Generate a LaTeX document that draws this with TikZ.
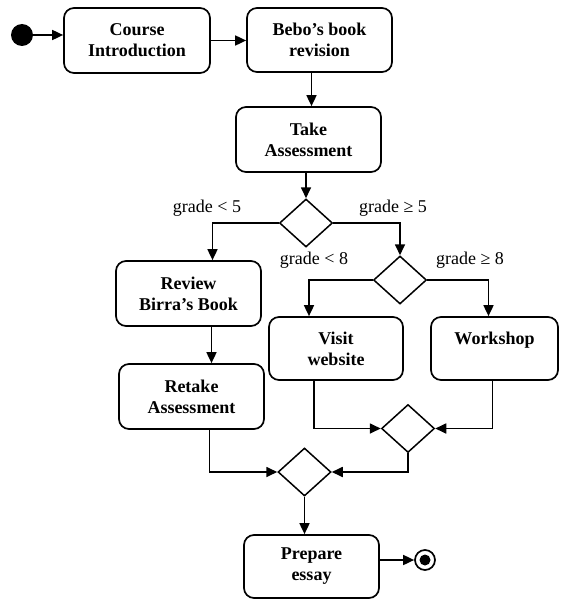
\documentclass[tikz,border=0pt]{standalone}
\usepackage{fontspec}
\setmainfont{Liberation Serif}
\usetikzlibrary{shapes.geometric,arrows.meta}

\begin{document}
\begin{tikzpicture}[x=1pt,y=-1pt,
	activity/.style={draw, rounded corners=10pt, line width=1.7pt, align=center,
		font=\fontsize{18}{21}\selectfont\bfseries, inner sep=0pt},
	branch/.style={draw, diamond, line width=1.5pt, minimum width=53pt,
		minimum height=48pt, inner sep=0pt},
	guard/.style={font=\fontsize{18}{21}\selectfont},
	flow/.style={line width=1.7pt, -{Triangle[length=11pt,width=10pt]}}]
	\useasboundingbox (0,0) rectangle (561,599);

	% activities
	\node[activity, minimum width=146pt, minimum height=65pt] (course) at (137,40.5) {Course\\Introduction};
	\node[activity, minimum width=145pt, minimum height=64pt] (bebo) at (319.5,40) {Bebo's book\\revision};
	\node[activity, minimum width=145pt, minimum height=65pt] (take) at (308.5,139.5) {Take\\Assessment};
	\node[activity, minimum width=145pt, minimum height=65pt] (review) at (188.5,293.5) {Review\\Birra's Book};
	\node[activity, minimum width=145pt, minimum height=65pt] (retake) at (191.5,396.5) {Retake\\Assessment};
	\node[activity, minimum width=134pt, minimum height=63pt] (visit) at (336,348.5) {Visit\\website};
	\node[activity, minimum width=127pt, minimum height=63pt] (workshop) at (494.5,348.5) {Workshop\\\mbox{}};
	\node[activity, minimum width=135pt, minimum height=63pt] (prepare) at (311.5,566.5) {Prepare\\essay};

	% decisions and merges
	\node[branch] (d1) at (306,223) {};
	\node[branch] (d2) at (400,280) {};
	\node[branch] (d3) at (408,428.5) {};
	\node[branch] (d4) at (304.5,472) {};

	% start and end
	\node[circle, fill, minimum size=22pt, inner sep=0pt] (start) at (22,35) {};
	\node[circle, draw, line width=1.7pt, minimum size=20pt, inner sep=0pt] (final) at (425,560) {};
	\node[circle, fill, minimum size=11pt, inner sep=0pt] at (final) {};

	% guards
	\node[guard] (lt5) at (207,208) {grade < 5};
	\node[guard] (ge5) at (393,208) {grade ≥ 5};
	\node[guard] (lt8) at (314,260) {grade < 8};
	\node[guard] (ge8) at (470,260) {grade ≥ 8};

	% flows
	\draw[flow] (start.east) -- (start.east -| course.west);
	\draw[flow] (course.east) -- (course.east -| bebo.west);
	\draw[flow] ([xshift=-8pt]bebo.south) -- ([xshift=-8pt]bebo.south |- take.north);
	\draw[flow] (take.south -| d1) -- (d1.north);
	\draw[flow] (d1.west) -| ([xshift=24pt]review.north);
	\draw[flow] (d1.east) -| (d2.north);
	\draw[flow] (d2.west) -| ([xshift=-27pt]visit.north);
	\draw[flow] (d2.east) -| ([xshift=-6pt]workshop.north);
	\draw[flow] ([xshift=23pt]review.south) -- ([xshift=23pt]review.south |- retake.north);
	\draw[flow] ([xshift=-22pt]visit.south) |- (d3.west);
	\draw[flow] ([xshift=-2pt]workshop.south) |- (d3.east);
	\draw[flow] (d3.south) |- (d4.east);
	\draw[flow] ([xshift=18pt]retake.south) |- (d4.west);
	\draw[flow] (d4.south) -- (d4.south |- prepare.north);
	\draw[flow] (prepare.east |- final) -- (final.west);
\end{tikzpicture}
\end{document}
